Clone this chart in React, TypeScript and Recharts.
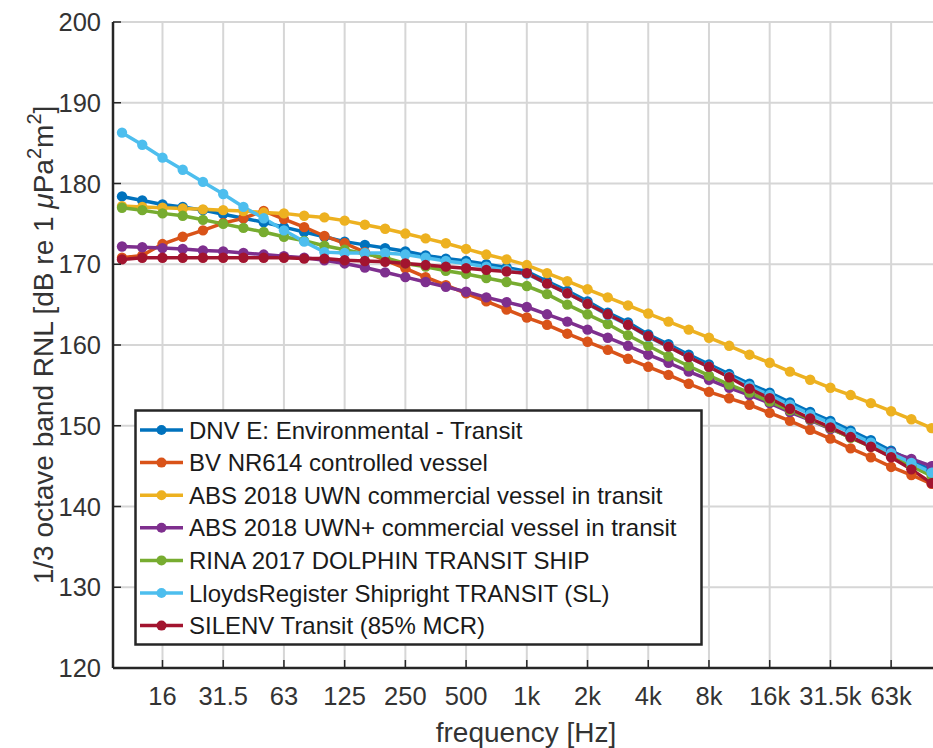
import React from "react";
import { LineChart, Line, XAxis, YAxis, CartesianGrid } from "recharts";

// 1/3 octave band centre frequencies (10 Hz .. 100 kHz)
const bands = [
  "10", "12.5", "16", "20", "25", "31.5", "40", "50", "63", "80",
  "100", "125", "160", "200", "250", "315", "400", "500", "630", "800",
  "1k", "1.25k", "1.6k", "2k", "2.5k", "3.15k", "4k", "5k", "6.3k", "8k",
  "10k", "12.5k", "16k", "20k", "25k", "31.5k", "40k", "50k", "63k", "80k",
  "100k",
];
const tickLabels = ["16", "31.5", "63", "125", "250", "500", "1k", "2k", "4k", "8k", "16k", "31.5k", "63k"];
const yTicks = [120, 130, 140, 150, 160, 170, 180, 190, 200];

const dnv = [
  178.4, 177.9, 177.4, 177.1, 176.7, 176.2, 175.7, 175.2, 174.6, 174.0,
  173.4, 172.8, 172.4, 172.0, 171.6, 171.1, 170.7, 170.4, 170.0, 169.6,
  169.1, 167.9, 166.7, 165.4, 164.0, 162.8, 161.3, 160.1, 158.8, 157.6,
  156.4, 155.2, 154.1, 152.9, 151.7, 150.6, 149.4, 148.2, 146.9, 145.7,
  144.5,
];
const bv = [
  170.8, 171.1, 172.5, 173.4, 174.2, 175.1, 175.7, 176.6, 175.6, 174.6,
  173.5, 172.6, 171.5, 170.5, 169.5, 168.4, 167.4, 166.4, 165.4, 164.4,
  163.4, 162.5, 161.4, 160.4, 159.4, 158.3, 157.3, 156.3, 155.2, 154.2,
  153.4, 152.6, 151.6, 150.6, 149.5, 148.4, 147.2, 146.1, 144.9, 143.9,
  142.8,
];
const absUwn = [
  177.2, 177.1, 177.0, 176.9, 176.8, 176.7, 176.6, 176.4, 176.3, 176.0,
  175.8, 175.4, 174.9, 174.4, 173.8, 173.2, 172.6, 171.9, 171.2, 170.6,
  169.9, 168.9, 167.9, 166.9, 165.9, 164.9, 163.9, 162.9, 161.9, 160.9,
  159.9, 158.8, 157.8, 156.7, 155.7, 154.7, 153.8, 152.8, 151.8, 150.8,
  149.7,
];
const absUwnPlus = [
  172.2, 172.1, 172.0, 171.9, 171.7, 171.6, 171.4, 171.2, 171.0, 170.8,
  170.5, 170.1, 169.6, 169.0, 168.4, 167.8, 167.2, 166.6, 165.9, 165.3,
  164.7, 163.8, 162.9, 161.9, 160.9, 159.9, 158.8, 157.8, 156.7, 155.7,
  154.7, 153.8, 152.8, 151.7, 150.7, 149.6, 148.6, 147.6, 146.7, 145.9,
  145.0,
];
const rina = [
  177.0, 176.7, 176.3, 176.0, 175.5, 175.0, 174.5, 174.0, 173.4, 172.9,
  172.3, 171.8, 171.3, 170.8, 170.1, 169.7, 169.2, 168.8, 168.3, 167.8,
  167.3, 166.3, 165.0, 163.8, 162.6, 161.2, 159.9, 158.6, 157.4, 156.2,
  155.1, 154.1, 153.0, 151.9, 150.8, 149.7, 148.5, 147.4, 146.2, 145.0,
  143.8,
];
const lloyds = [
  186.3, 184.8, 183.2, 181.7, 180.2, 178.7, 177.1, 175.7, 174.2, 172.8,
  171.5, 171.4, 171.4, 171.4, 171.2, 170.8, 170.4, 170.1, 169.7, 169.3,
  168.8, 167.6, 166.4, 165.1, 163.7, 162.5, 161.0, 159.8, 158.5, 157.3,
  156.1, 154.9, 153.8, 152.6, 151.4, 150.3, 149.1, 147.9, 146.6, 145.4,
  144.2,
];
const silenv = [
  170.6, 170.8, 170.8, 170.8, 170.8, 170.8, 170.8, 170.8, 170.8, 170.7,
  170.7, 170.5, 170.4, 170.3, 170.1, 169.9, 169.7, 169.5, 169.3, 169.1,
  168.9, 167.6, 166.4, 165.1, 163.8, 162.5, 161.1, 159.8, 158.5, 157.3,
  156.0, 154.6, 153.4, 152.1, 150.9, 149.8, 148.6, 147.4, 146.1, 144.6,
  142.9,
];

const series = [
  { key: "dnv", name: "DNV E: Environmental - Transit", color: "#0072BD", values: dnv },
  { key: "bv", name: "BV NR614 controlled vessel", color: "#D95319", values: bv },
  { key: "absUwn", name: "ABS 2018 UWN commercial vessel in transit", color: "#EDB120", values: absUwn },
  { key: "absUwnPlus", name: "ABS 2018 UWN+ commercial vessel in transit", color: "#7E2F8E", values: absUwnPlus },
  { key: "rina", name: "RINA 2017 DOLPHIN TRANSIT SHIP", color: "#77AC30", values: rina },
  { key: "lloyds", name: "LloydsRegister Shipright TRANSIT (SL)", color: "#4DBEEE", values: lloyds },
  { key: "silenv", name: "SILENV Transit (85% MCR)", color: "#A2142F", values: silenv },
];

const rows = bands.map((b, i) => {
  const row: Record<string, number | string> = { band: i, label: b };
  series.forEach((s) => (row[s.key] = s.values[i]));
  return row;
});

const xTicks = tickLabels.map((l) => bands.indexOf(l));

const FONT = "'Liberation Sans', Arial, Helvetica, sans-serif";
const AXIS = "#262626";

const BottomTick = (props: any) => {
  const { x, y, payload } = props;
  return (
    <g>
      <line x1={x} x2={x} y1={y} y2={y - 8} stroke={AXIS} strokeWidth={1.5} />
      <text x={x} y={y + 37} textAnchor="middle" fontSize={25.5} fontFamily={FONT} fill="#333">
        {bands[payload.value]}
      </text>
    </g>
  );
};

const TopTick = (props: any) => {
  const { x, y } = props;
  return <line x1={x} x2={x} y1={y} y2={y + 8} stroke={AXIS} strokeWidth={1.5} />;
};

const LeftTick = (props: any) => {
  const { x, y, payload } = props;
  return (
    <g>
      <line x1={x} x2={x + 8} y1={y} y2={y} stroke={AXIS} strokeWidth={1.5} />
      <text x={x - 12} y={y + 9} textAnchor="end" fontSize={25.5} fontFamily={FONT} fill="#333">
        {payload.value}
      </text>
    </g>
  );
};

const YLabel = (props: any) => {
  const { viewBox } = props;
  const cx = viewBox.x;
  const cy = viewBox.y + viewBox.height / 2;
  return (
    <text
      x={cx}
      y={cy}
      transform={`rotate(-90 ${cx} ${cy})`}
      textAnchor="middle"
      fontSize={28}
      fontFamily={FONT}
      fill="#333"
    >
      1/3 octave band RNL [dB re 1 <tspan fontStyle="italic">μ</tspan>Pa
      <tspan dy={-12} fontSize={20}>2</tspan>
      <tspan dy={12}>m</tspan>
      <tspan dy={-12} fontSize={20}>2</tspan>
      <tspan dy={12}>]</tspan>
    </text>
  );
};

const XLabel = (props: any) => {
  const { viewBox } = props;
  return (
    <text
      x={viewBox.x + viewBox.width / 2}
      y={viewBox.y + 74}
      textAnchor="middle"
      fontSize={28}
      fontFamily={FONT}
      fill="#333"
    >
      frequency [Hz]
    </text>
  );
};

const LegendBox = () => (
  <svg
    width={570}
    height={238}
    style={{ position: "absolute", left: 134, top: 409 }}
  >
    <rect x={1.5} y={1.5} width={566} height={234} fill="#fff" stroke={AXIS} strokeWidth={2.5} />
    {series.map((s, i) => {
      const cy = 21 + i * 32.6;
      return (
        <g key={s.key}>
          <line x1={6} x2={49} y1={cy} y2={cy} stroke={s.color} strokeWidth={3.5} />
          <circle cx={27.5} cy={cy} r={5} fill={s.color} />
          <text x={55} y={cy + 8.5} fontSize={24} fontFamily={FONT} fill="#1a1a1a">
            {s.name}
          </text>
        </g>
      );
    })}
  </svg>
);

export default function App() {
  return (
    <div
      style={{
        position: "absolute",
        left: 0,
        top: 0,
        width: 933,
        height: 748,
        overflow: "hidden",
        background: "#fff",
      }}
    >
      <LineChart
        width={960}
        height={748}
        data={rows}
        margin={{ top: 22, right: 21, bottom: 0, left: 53 }}
      >
        <CartesianGrid stroke="#d6d6d6" strokeWidth={2} />
        <XAxis
          xAxisId={0}
          dataKey="band"
          type="number"
          domain={[-0.445, 40.365]}
          allowDataOverflow
          ticks={xTicks}
          interval={0}
          height={80}
          tickSize={0}
          tickMargin={0}
          tickLine={false}
          axisLine={{ stroke: AXIS, strokeWidth: 2.5 }}
          tick={<BottomTick />}
          label={<XLabel />}
        />
        <XAxis
          xAxisId="top"
          orientation="top"
          dataKey="band"
          type="number"
          domain={[-0.445, 40.365]}
          allowDataOverflow
          ticks={xTicks}
          interval={0}
          height={0}
          tickSize={0}
          tickMargin={0}
          tickLine={false}
          axisLine={{ stroke: AXIS, strokeWidth: 2.5 }}
          tick={<TopTick />}
        />
        <YAxis
          type="number"
          domain={[120, 200]}
          ticks={yTicks}
          interval={0}
          width={60}
          tickSize={0}
          tickMargin={0}
          tickLine={false}
          axisLine={{ stroke: AXIS, strokeWidth: 2.5 }}
          tick={<LeftTick />}
          label={<YLabel />}
        />
        {series.map((s) => (
          <Line
            key={s.key}
            xAxisId={0}
            type="linear"
            dataKey={s.key}
            name={s.name}
            stroke={s.color}
            strokeWidth={3.5}
            dot={{ r: 5.2, fill: s.color, stroke: s.color, strokeWidth: 0 }}
            activeDot={false}
            isAnimationActive={false}
          />
        ))}
      </LineChart>
      <LegendBox />
    </div>
  );
}
